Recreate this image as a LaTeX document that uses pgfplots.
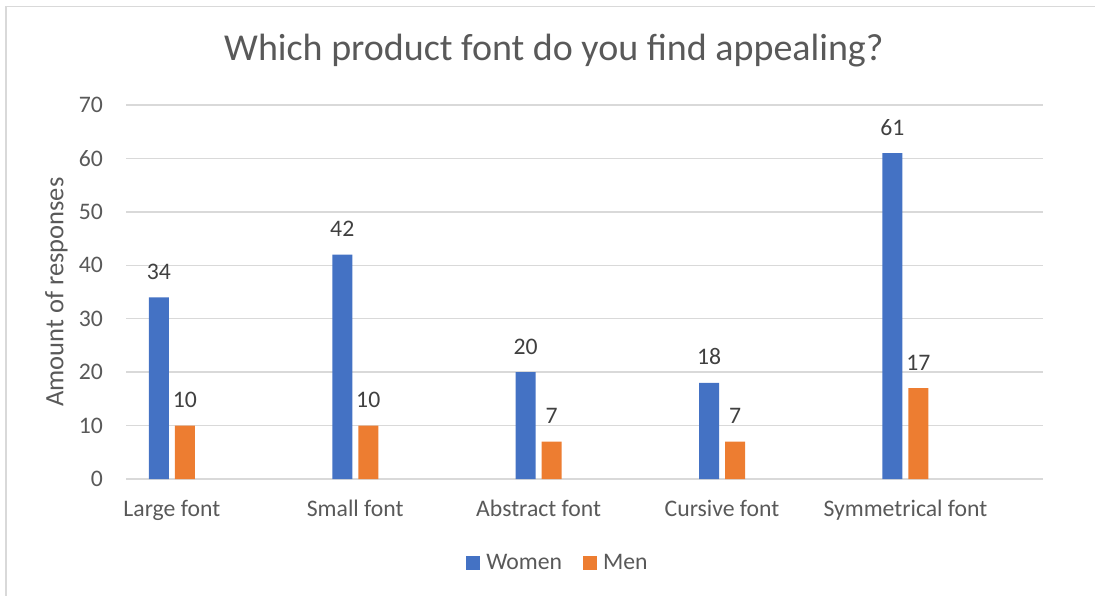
\documentclass[border=0pt]{standalone}
\usepackage{fontspec}
\setmainfont{Carlito}
\usepackage{pgfplots}
\pgfplotsset{compat=1.18}
\definecolor{cblue}{HTML}{4472C4}
\definecolor{corange}{HTML}{ED7D31}
\definecolor{cgrid}{HTML}{D9D9D9}
\definecolor{ctext}{HTML}{595959}
\definecolor{clabel}{HTML}{404040}
\newcommand{\tfont}{\fontsize{23.7}{28}\selectfont}
\begin{document}
\begin{tikzpicture}
\path[use as bounding box] (0pt,0pt) rectangle (1095pt,595pt);
\draw[cgrid, line width=1.3pt] (6pt,-5pt) -- (6pt,588.3pt) -- (1100pt,588.3pt);
\begin{axis}[
  at={(126pt,116pt)}, anchor=south west,
  scale only axis, width=917pt, height=374pt,
  ybar,
  ymin=0, ymax=70, ytick={0,10,...,70},
  xmin=-0.25, xmax=4.75,
  xtick={0,1,2,3,4},
  xticklabels={Large font, Small font, Abstract font, Cursive font, Symmetrical font},
  /pgf/number format/assume math mode=true,
  major tick length=0pt,
  axis line style={draw=none},
  ymajorgrids, major grid style={cgrid, line width=1.3pt},
  tick label style={font=\tfont, text=ctext},
  yticklabel style={anchor=east, inner sep=0pt, xshift=-23pt},
  xticklabel style={anchor=base, yshift=-37.7pt},
  title={Which product font do you find appealing?},
  title style={at={(axis description cs:0.4667,1.1024)}, anchor=base, font=\fontsize{38}{45}\selectfont, text=ctext},
  ylabel={Amount of responses},
  ylabel style={at={(axis description cs:-0.0682,0.5)}, anchor=base, rotate=0, font=\fontsize{26.5}{32}\selectfont, text=ctext},
  nodes near coords,
  every node near coord/.append style={font=\tfont, text=clabel, anchor=base, yshift=18pt},
  legend style={at={(axis description cs:0.471,-0.2246)}, anchor=center, draw=none, legend columns=2, font=\tfont, text=ctext,
    /tikz/every odd column/.append style={column sep=4pt},
    /tikz/every even column/.append style={column sep=19pt}},
  legend image code/.code={\fill[#1] (0pt,-7pt) rectangle (14pt,7pt);},
]
\addplot[fill=cblue, draw=none, bar width=20pt, bar shift=-13pt] coordinates {(0,34) (1,42) (2,20) (3,18) (4,61)};
\addplot[fill=corange, draw=none, bar width=20pt, bar shift=13pt] coordinates {(0,10) (1,10) (2,7) (3,7) (4,17)};
\legend{Women, Men}
\end{axis}
\end{tikzpicture}
\end{document}
